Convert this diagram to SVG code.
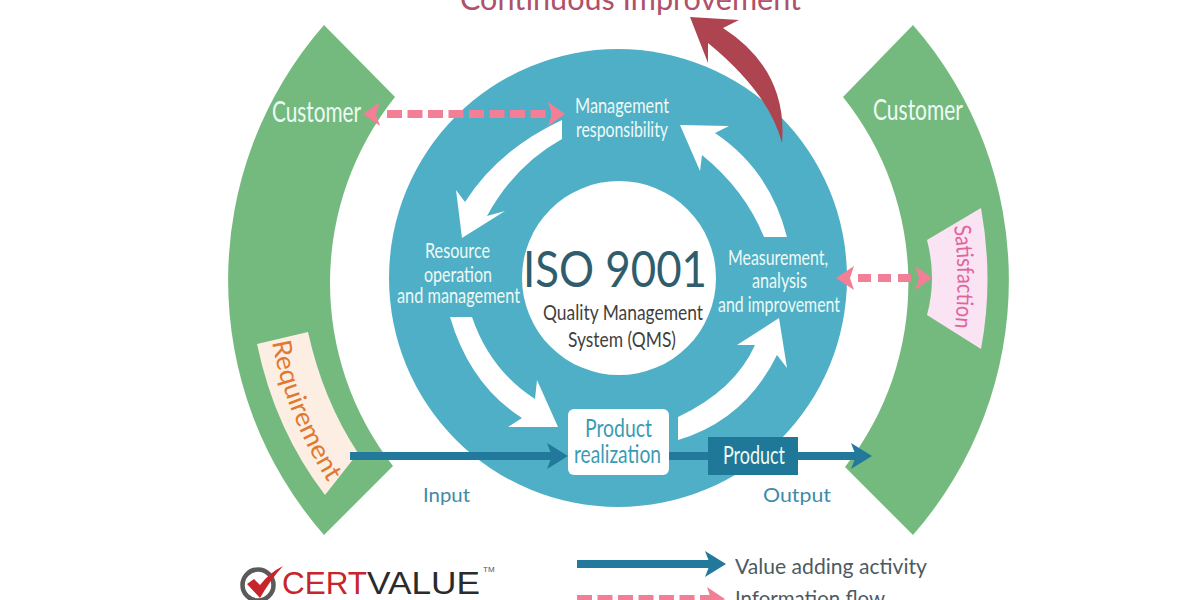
<svg xmlns="http://www.w3.org/2000/svg" width="1200" height="600" viewBox="0 0 1200 600">
<style>
text{font-family:"Lato","Noto Sans","Liberation Sans",sans-serif}
.w{fill:#eefaf6}
.c{font-size:28px}
.l{font-size:21.5px}
.g{fill:#74ba7e}
.t{fill:#3f8aa6;font-size:20px}
.v{fill:none;stroke:#22799b;stroke-width:8}
.p{fill:none;stroke:#f37f96;stroke-width:8}
</style>
<defs>
<marker id="ah" markerUnits="userSpaceOnUse" markerWidth="30" markerHeight="30" refX="10" refY="15" orient="auto-start-reverse"><path d="M0,2 L21,15 L0,28 L5,15Z" fill="#22799b"/></marker>
<marker id="ap" markerUnits="userSpaceOnUse" markerWidth="30" markerHeight="30" refX="10" refY="15" orient="auto-start-reverse"><path d="M2,3 L20,15 L2,27 L6,15Z" fill="#f37f96"/></marker>
</defs>
<rect width="1200" height="600" fill="#fff"/>
<g id="title"><text x="460" y="10" font-size="30" fill="#b0506a" textLength="341" lengthAdjust="spacingAndGlyphs">Continuous Improvement</text></g>
<g id="customer-left">
<path class="g" d="M324,25 L395,97 A298,298 0 0 0 393,466 L324,535 A387,387 0 0 1 324,25Z"/>
<text class="w c" x="272" y="122" textLength="89" lengthAdjust="spacingAndGlyphs">Customer</text>
</g>
<g id="requirement">
<path fill="#fdeee3" d="M257,344 L308,332 Q323,400 358,453 L325,495 Q275,430 257,344Z"/>
<path id="rp" d="M272,342 Q286,420 338,498" fill="none"/>
<text font-size="26" fill="#e0782e"><textPath href="#rp" textLength="152" lengthAdjust="spacingAndGlyphs">Requirement</textPath></text>
</g>
<g id="customer-right">
<path class="g" d="M913,25 L843,97 A298,298 0 0 1 845,467 L913,535 A387,387 0 0 0 913,25Z"/>
<text class="w c" x="873" y="120" textLength="90" lengthAdjust="spacingAndGlyphs">Customer</text>
</g>
<g id="satisfaction">
<path fill="#fae3f2" d="M927,240 L981,208 Q994,280 981,349 L927,315 Q937,278 927,240Z"/>
<path id="sp" d="M954,226 Q961,278 954,335" fill="none"/>
<text font-size="23" fill="#e0639f"><textPath href="#sp" textLength="102" lengthAdjust="spacingAndGlyphs">Satisfaction</textPath></text>
</g>
<g id="ring">
<circle cx="618" cy="278" r="229" fill="#4fafc6"/>
<circle cx="619" cy="278" r="97" fill="#fff"/>
<text x="523" y="287" font-size="50" fill="#2f5d6e" textLength="184" lengthAdjust="spacingAndGlyphs">ISO 9001</text>
<text x="543" y="320" font-size="21.5" fill="#3f3f3f" textLength="160" lengthAdjust="spacingAndGlyphs">Quality Management</text>
<text x="568" y="347" font-size="21.5" fill="#3f3f3f" textLength="108" lengthAdjust="spacingAndGlyphs">System (QMS)</text>
</g>
<g id="management"><text class="w l" x="575" y="113" textLength="94" lengthAdjust="spacingAndGlyphs">Management</text><text class="w l" x="576" y="137" textLength="92" lengthAdjust="spacingAndGlyphs">responsibility</text></g>
<g id="resource"><text class="w l" x="425" y="258" textLength="65" lengthAdjust="spacingAndGlyphs">Resource</text><text class="w l" x="424" y="282" textLength="68" lengthAdjust="spacingAndGlyphs">operation</text><text class="w l" x="397" y="303" textLength="123" lengthAdjust="spacingAndGlyphs">and management</text></g>
<g id="measurement"><text class="w l" x="728" y="265" textLength="100" lengthAdjust="spacingAndGlyphs">Measurement,</text><text class="w l" x="752" y="288" textLength="55" lengthAdjust="spacingAndGlyphs">analysis</text><text class="w l" x="718" y="312" textLength="122" lengthAdjust="spacingAndGlyphs">and improvement</text></g>
<g id="connectors">
<path fill="#fff" d="M787,237 L764,237 Q745,190 702,155 L700,171 L680,125 L729,126 L715,133 Q770,170 787,237Z"/>
<path fill="#fff" d="M562,120 Q498,150 465,202 L456,190 L462,238 L505,211 L487,216 Q515,165 562,139Z"/>
<path fill="#fff" d="M450,317 Q470,385 522,418 L508,427 L558,427 L537,380 L535,399 Q490,370 472,317Z"/>
<path fill="#fff" d="M678,417 Q735,390 755,345 L737,345 L779,318 L787,368 L777,355 Q745,420 678,440Z"/>
<path fill="#ad4450" d="M782,143 Q769,93 708,43 L708,63 L690,17 L739,20 L723,28 Q788,70 782,143Z"/>
<path class="v" d="M350,456 H557" marker-end="url(#ah)"/>
<path class="v" d="M669,456 H861" marker-end="url(#ah)"/>
<path class="p" stroke-dasharray="15 5.5" d="M387,114 H555"/>
<path fill="#f37f96" d="M363,114 L380,102 L376,114 L380,126Z M565,114 L548,102 L552,114 L548,126Z"/>
<path class="p" stroke-dasharray="13 7" d="M858,278 H915"/>
<path fill="#f37f96" d="M836,278 L854,266 L850,278 L854,290Z M932,278 L915,266 L919,278 L915,290Z"/>
<path class="v" d="M577,564 H715" marker-end="url(#ah)"/>
<path class="p" stroke-dasharray="15 5.5" d="M577,599 H715" marker-end="url(#ap)"/>
</g>
<g id="product-realization">
<rect x="568" y="409" width="101" height="66" rx="6" fill="#fff"/>
<text x="585" y="437" font-size="25" fill="#3a9bb5" textLength="67" lengthAdjust="spacingAndGlyphs">Product</text>
<text x="574" y="463" font-size="25" fill="#3a9bb5" textLength="87" lengthAdjust="spacingAndGlyphs">realization</text>
</g>
<g id="product">
<rect x="708" y="437" width="90" height="38" fill="#1f7898"/>
<text x="723" y="464" font-size="25" fill="#eefaf6" textLength="62" lengthAdjust="spacingAndGlyphs">Product</text>
</g>
<g id="labels">
<text class="t" x="423" y="502" textLength="47" lengthAdjust="spacingAndGlyphs">Input</text>
<text class="t" x="763" y="502" textLength="68" lengthAdjust="spacingAndGlyphs">Output</text>
<text x="735" y="574" font-size="22" fill="#4d5a62" textLength="192" lengthAdjust="spacingAndGlyphs">Value adding activity</text>
<text x="735" y="606" font-size="22" fill="#4d5a62" textLength="150" lengthAdjust="spacingAndGlyphs">Information flow</text>
</g>
<g id="logo">
<circle cx="258" cy="585" r="15.5" fill="none" stroke="#5a5a5a" stroke-width="4.5"/>
<path fill="#c8242b" d="M247,584 L254,579 L260,585 Q269,573 283,566 Q271,579 260,598Z"/>
<text x="282" y="594" font-size="32" fill="#c8242b" style="font-family:'Liberation Sans',sans-serif" textLength="85" lengthAdjust="spacingAndGlyphs">CERT</text>
<text x="367" y="594" font-size="32" fill="#2b2b2b" style="font-family:'Liberation Sans',sans-serif" textLength="113" lengthAdjust="spacingAndGlyphs">VALUE</text>
<text x="483" y="572" font-size="8" fill="#555" style="font-family:'Liberation Sans',sans-serif">TM</text>
</g>
</svg>
